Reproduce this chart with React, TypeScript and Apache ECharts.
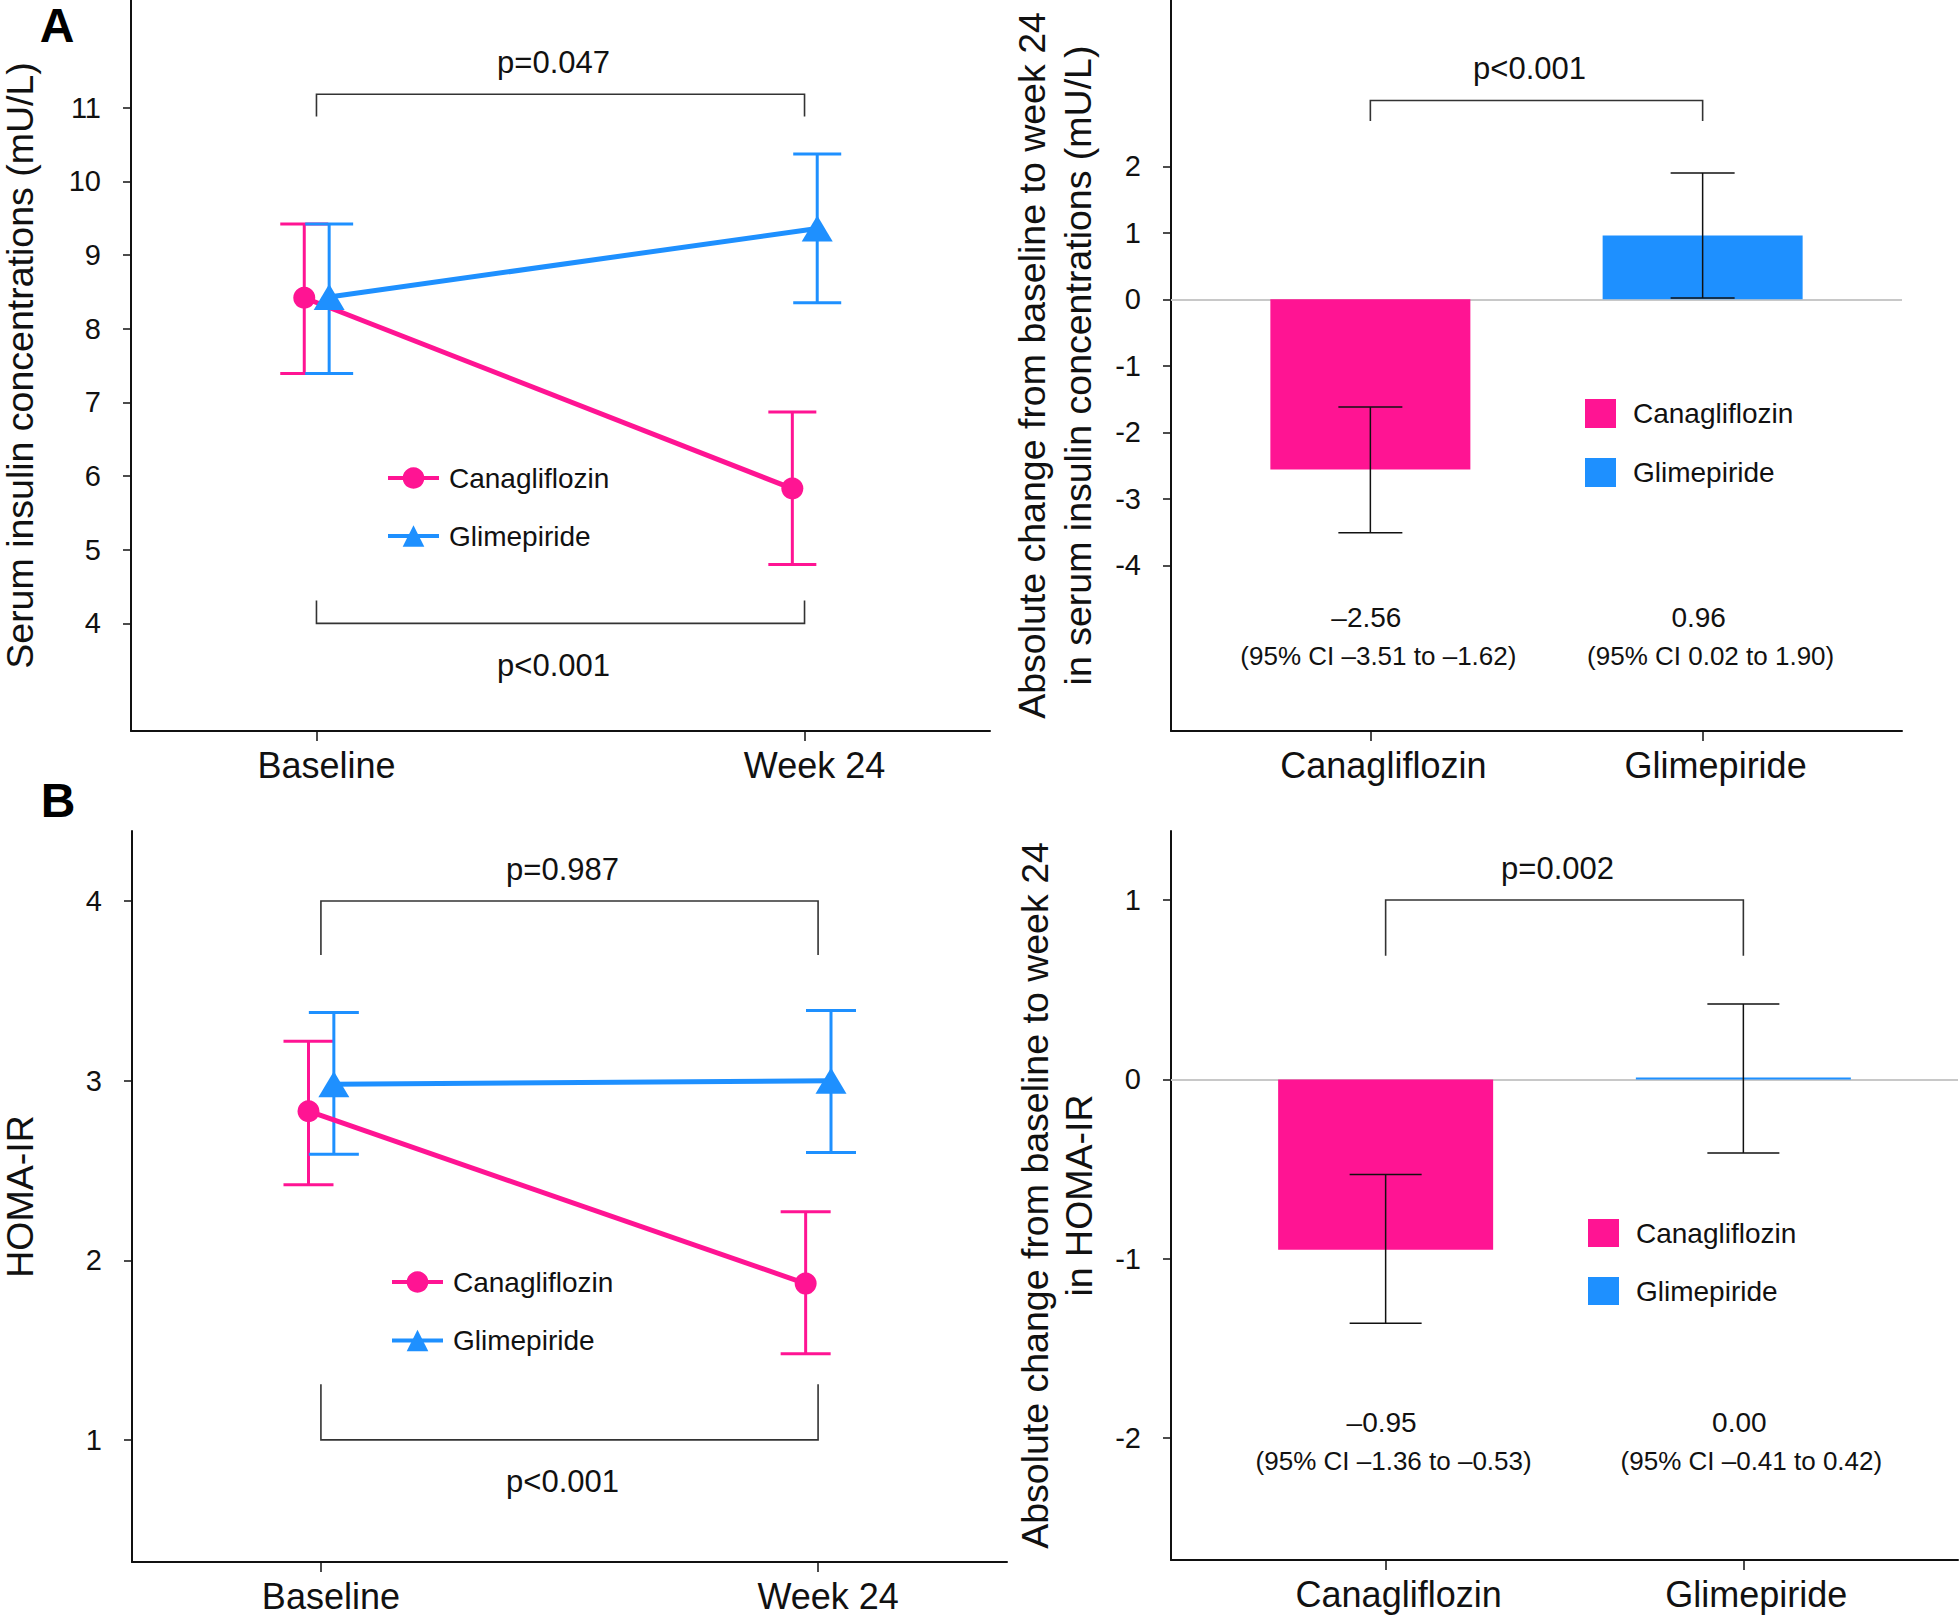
import React, { useEffect, useRef } from 'react';
import * as echarts from 'echarts';

// ---------------- data ----------------
const timepoints = ['Baseline', 'Week 24'];
const treatments = ['Canagliflozin', 'Glimepiride'];

// Panel A – serum insulin (mU/L): mean and 95% CI
const insulinCanaMean = [8.42, 5.83];
const insulinCanaLow = [7.39, 4.80];
const insulinCanaHigh = [9.42, 6.87];
const insulinGlimMean = [8.43, 9.36];
const insulinGlimLow = [7.39, 8.35];
const insulinGlimHigh = [9.42, 10.37];
const insulinTicks = [4, 5, 6, 7, 8, 9, 10, 11];
const insulinWithinP = ['p=0.047', 'p<0.001']; // [Glimepiride, Canagliflozin]
const insulinChangeMean = [-2.56, 0.96];
const insulinChangeLow = [-3.51, 0.02];
const insulinChangeHigh = [-1.62, 1.9];
const insulinChangeTicks = [-4, -3, -2, -1, 0, 1, 2];
const insulinBetweenP = 'p<0.001';

// Panel B – HOMA-IR: mean and 95% CI
const homaCanaMean = [2.83, 1.87];
const homaCanaLow = [2.42, 1.48];
const homaCanaHigh = [3.22, 2.27];
const homaGlimMean = [2.98, 3.0];
const homaGlimLow = [2.59, 2.6];
const homaGlimHigh = [3.38, 3.39];
const homaTicks = [1, 2, 3, 4];
const homaWithinP = ['p=0.987', 'p<0.001']; // [Glimepiride, Canagliflozin]
const homaChangeMean = [-0.95, 0.0];
const homaChangeLow = [-1.36, -0.41];
const homaChangeHigh = [-0.53, 0.42];
const homaChangeTicks = [-2, -1, 0, 1];
const homaBetweenP = 'p=0.002';

// ---------------- style / layout ----------------
const FONT = '"Liberation Sans", Arial, Helvetica, sans-serif';
const PINK = '#FF1493';
const BLUE = '#1E90FF';
const INK = '#111111';
const DODGE_CANA = -0.025;
const DODGE_GLIM = 0.026;

const fmt = (v: number) => (v < 0 ? '\u2013' : '') + Math.abs(v).toFixed(2);

function errorBarSeries(g: number, xs: number[], lows: number[], highs: number[], color: string, width: number, capHalf: number, z: number) {
  return {
    type: 'custom',
    name: 'err',
    xAxisIndex: g,
    yAxisIndex: g,
    z,
    silent: true,
    data: xs.map((x, i) => [x, lows[i], highs[i]]),
    encode: { x: 0, y: [1, 2] },
    renderItem: (params: any, api: any) => {
      const x = api.value(0);
      const lo = api.coord([x, api.value(1)]);
      const hi = api.coord([x, api.value(2)]);
      const st = () => ({ stroke: color, lineWidth: width, fill: 'none' });
      return {
        type: 'group',
        children: [
          { type: 'line', shape: { x1: lo[0], y1: lo[1], x2: hi[0], y2: hi[1] }, style: st() },
          { type: 'line', shape: { x1: lo[0] - capHalf, y1: lo[1], x2: lo[0] + capHalf, y2: lo[1] }, style: st() },
          { type: 'line', shape: { x1: hi[0] - capHalf, y1: hi[1], x2: hi[0] + capHalf, y2: hi[1] }, style: st() },
        ],
      };
    },
  };
}

type Bracket = { from: number; to: number; level: number; tip: number; label: string; side: 'above' | 'below' };

function bracketSeries(g: number, brackets: Bracket[]) {
  return {
    type: 'custom',
    name: 'bracket',
    xAxisIndex: g,
    yAxisIndex: g,
    z: 2,
    silent: true,
    data: brackets.map((b) => [b.from, b.to, b.level, b.tip]),
    encode: { x: [0, 1], y: [2, 3] },
    renderItem: (params: any, api: any) => {
      const b = brackets[params.dataIndex];
      const a0 = api.coord([api.value(0), api.value(3)]);
      const a1 = api.coord([api.value(0), api.value(2)]);
      const b1 = api.coord([api.value(1), api.value(2)]);
      const b0 = api.coord([api.value(1), api.value(3)]);
      const mx = (a1[0] + b1[0]) / 2 - 7;
      const ty = a1[1] + (b.side === 'above' ? -32 : 42);
      return {
        type: 'group',
        children: [
          { type: 'polyline', shape: { points: [a0, a1, b1, b0] }, style: { stroke: '#333', lineWidth: 1.6, fill: 'none' } },
          {
            type: 'text',
            x: mx,
            y: ty,
            style: { text: b.label, fontSize: 31, fontFamily: FONT, fill: INK, align: 'center', verticalAlign: 'middle' },
          },
        ],
      };
    },
  };
}

function ciTextSeries(g: number, means: number[], lows: number[], highs: number[], level: number) {
  return {
    type: 'custom',
    name: 'ci',
    xAxisIndex: g,
    yAxisIndex: g,
    z: 2,
    silent: true,
    data: means.map((m, i) => [i, m, lows[i], highs[i]]),
    encode: { x: 0, y: 1 },
    renderItem: (params: any, api: any) => {
      const c = api.coord([api.value(0), level]);
      const t1 = fmt(api.value(1));
      const t2 = `(95% CI ${fmt(api.value(2))} to ${fmt(api.value(3))})`;
      return {
        type: 'group',
        children: [
          { type: 'text', x: c[0] - 4, y: c[1], style: { text: t1, fontSize: 28, fontFamily: FONT, fill: INK, align: 'center', verticalAlign: 'middle' } },
          { type: 'text', x: c[0] + 8, y: c[1] + 38, style: { text: t2, fontSize: 26, fontFamily: FONT, fill: INK, align: 'center', verticalAlign: 'middle' } },
        ],
      };
    },
  };
}

const axisLineStyle = { color: INK, width: 2 };

function xAxisCfg(g: number, min: number, max: number, labels: string[], shift: number) {
  const idx = labels.map((_, i) => i);
  return {
    type: 'value',
    gridIndex: g,
    min,
    max,
    axisLine: { show: true, onZero: false, lineStyle: axisLineStyle },
    axisTick: { show: true, customValues: idx, length: 10, lineStyle: { color: INK, width: 1.5 } },
    axisLabel: {
      show: true,
      customValues: idx,
      formatter: (v: number) => labels[Math.round(v)] ?? '',
      fontSize: 36,
      fontFamily: FONT,
      color: INK,
      margin: 16,
      padding: [0, 0, 0, shift],
    },
    splitLine: { show: false },
  };
}

function yAxisCfg(g: number, min: number, max: number, ticks: number[], name: string, nameGap: number, lineHeight: number) {
  return {
    type: 'value',
    gridIndex: g,
    min,
    max,
    axisLine: { show: true, onZero: false, lineStyle: axisLineStyle },
    axisTick: { show: true, customValues: ticks, length: 8, lineStyle: { color: INK, width: 1.5 } },
    axisLabel: { show: true, customValues: ticks, fontSize: 29, fontFamily: FONT, color: INK, margin: 30 },
    splitLine: { show: false },
    name,
    nameLocation: 'middle',
    nameGap,
    nameRotate: 90,
    nameMoveOverlap: false,
    nameTextStyle: { fontSize: 37.5, fontFamily: FONT, color: INK, lineHeight },
  };
}

function lineSeries(g: number, name: string, means: number[], dodge: number, color: string, symbol: string, symbolSize: any) {
  return {
    type: 'line',
    name,
    xAxisIndex: g,
    yAxisIndex: g,
    z: 4,
    data: means.map((m, i) => [i + dodge, m]),
    symbol,
    symbolSize,
    showSymbol: true,
    lineStyle: { color, width: 5 },
    itemStyle: { color, borderWidth: 0 },
  };
}

function barSeries(g: number, name: string, idx: number, means: number[], color: string, barWidth: number, withZero: boolean) {
  const s: any = {
    type: 'bar',
    name,
    xAxisIndex: g,
    yAxisIndex: g,
    z: 2,
    data: [[idx, means[idx]]],
    barWidth,
    barGap: '-100%',
    barMinHeight: 2,
    itemStyle: { color },
  };
  if (withZero) {
    s.markLine = {
      silent: true,
      symbol: ['none', 'none'],
      label: { show: false },
      lineStyle: { color: '#c8c8c8', width: 2, type: 'solid' },
      data: [{ yAxis: 0 }],
      z: 1,
    };
  }
  return s;
}

function legendCfg(left: number, top: number, iw: number, ih: number, gap: number, pad: number, rect: boolean) {
  const cfg: any = {
    orient: 'vertical',
    left,
    top,
    padding: 0,
    itemWidth: iw,
    itemHeight: ih,
    itemGap: gap,
    selectedMode: false,
    data: treatments.map((n) => (rect ? { name: n, icon: 'rect' } : n)),
    formatter: (n: string) => `{t|${n}}`,
    textStyle: {
      fontSize: 28,
      fontFamily: FONT,
      color: INK,
      rich: { t: { fontSize: 28, fontFamily: FONT, color: INK, padding: [0, 0, 0, pad] } },
    },
  };
  if (!rect) cfg.lineStyle = { width: 4 };
  return cfg;
}

function buildOption() {
  const insulinBrackets: Bracket[] = [
    { from: 0, to: 1, level: 11.18, tip: 10.88, label: insulinWithinP[0], side: 'above' },
    { from: 0, to: 1, level: 4.0, tip: 4.31, label: insulinWithinP[1], side: 'below' },
  ];
  const insulinChangeBrackets: Bracket[] = [
    { from: 0, to: 1, level: 2.99, tip: 2.68, label: insulinBetweenP, side: 'above' },
  ];
  const homaBrackets: Bracket[] = [
    { from: 0, to: 1, level: 4.0, tip: 3.7, label: homaWithinP[0], side: 'above' },
    { from: 0, to: 1, level: 1.0, tip: 1.31, label: homaWithinP[1], side: 'below' },
  ];
  const homaChangeBrackets: Bracket[] = [
    { from: 0, to: 1, level: 1.0, tip: 0.69, label: homaBetweenP, side: 'above' },
  ];
  const tIdx = timepoints.map((_, i) => i);

  return {
    animation: false,
    backgroundColor: '#ffffff',
    textStyle: { fontFamily: FONT },
    grid: [
      { left: 131, top: 0, width: 859, height: 731, outerBoundsMode: 'none' },
      { left: 1171, top: 0, width: 731, height: 731, outerBoundsMode: 'none' },
      { left: 132, top: 831, width: 875, height: 731, outerBoundsMode: 'none' },
      { left: 1171, top: 831, width: 787, height: 729, outerBoundsMode: 'none' },
    ],
    xAxis: [
      xAxisCfg(0, -0.38, 1.38, timepoints, 20),
      xAxisCfg(1, -0.6, 1.6, treatments, 26),
      xAxisCfg(2, -0.38, 1.38, timepoints, 20),
      xAxisCfg(3, -0.6, 1.6, treatments, 26),
    ],
    yAxis: [
      yAxisCfg(0, 2.54, 12.46, insulinTicks, 'Serum insulin concentrations (mU/L)', 91, 40),
      yAxisCfg(1, -6.49, 4.5, insulinChangeTicks, 'Absolute change from baseline to week 24\nin serum insulin concentrations (mU/L)', 70, 46),
      yAxisCfg(2, 0.32, 4.39, homaTicks, 'HOMA-IR', 92, 40),
      yAxisCfg(3, -2.68, 1.385, homaChangeTicks, 'Absolute change from baseline to week 24\nin HOMA-IR', 70, 44),
    ],
    legend: [
      legendCfg(386, 464, 51, 27, 30, 5, false),
      legendCfg(1585, 399, 31, 29, 30, 12, true),
      legendCfg(390, 1268, 51, 27, 30.5, 5, false),
      legendCfg(1588, 1219, 31, 28, 30, 12, true),
    ],
    graphic: [
      { type: 'text', x: 57, y: 25, style: { text: 'A', fontSize: 48, fontWeight: 'bold', fontFamily: FONT, fill: '#000', align: 'center', verticalAlign: 'middle' } },
      { type: 'text', x: 58, y: 800, style: { text: 'B', fontSize: 48, fontWeight: 'bold', fontFamily: FONT, fill: '#000', align: 'center', verticalAlign: 'middle' } },
    ],
    series: [
      // Panel A left
      lineSeries(0, treatments[0], insulinCanaMean, DODGE_CANA, PINK, 'circle', 22),
      lineSeries(0, treatments[1], insulinGlimMean, DODGE_GLIM, BLUE, 'triangle', [31, 26]),
      errorBarSeries(0, tIdx.map((i) => i + DODGE_CANA), insulinCanaLow, insulinCanaHigh, PINK, 3, 24, 1),
      errorBarSeries(0, tIdx.map((i) => i + DODGE_GLIM), insulinGlimLow, insulinGlimHigh, BLUE, 3, 24, 1),
      bracketSeries(0, insulinBrackets),
      // Panel A right
      barSeries(1, treatments[0], 0, insulinChangeMean, PINK, 200, true),
      barSeries(1, treatments[1], 1, insulinChangeMean, BLUE, 200, false),
      errorBarSeries(1, [0, 1], insulinChangeLow, insulinChangeHigh, INK, 1.5, 32, 5),
      bracketSeries(1, insulinChangeBrackets),
      ciTextSeries(1, insulinChangeMean, insulinChangeLow, insulinChangeHigh, -4.79),
      // Panel B left
      lineSeries(2, treatments[0], homaCanaMean, DODGE_CANA, PINK, 'circle', 22),
      lineSeries(2, treatments[1], homaGlimMean, DODGE_GLIM, BLUE, 'triangle', [31, 26]),
      errorBarSeries(2, tIdx.map((i) => i + DODGE_CANA), homaCanaLow, homaCanaHigh, PINK, 3, 25, 1),
      errorBarSeries(2, tIdx.map((i) => i + DODGE_GLIM), homaGlimLow, homaGlimHigh, BLUE, 3, 25, 1),
      bracketSeries(2, homaBrackets),
      // Panel B right
      barSeries(3, treatments[0], 0, homaChangeMean, PINK, 215, true),
      barSeries(3, treatments[1], 1, homaChangeMean, BLUE, 215, false),
      errorBarSeries(3, [0, 1], homaChangeLow, homaChangeHigh, INK, 1.5, 36, 5),
      bracketSeries(3, homaChangeBrackets),
      ciTextSeries(3, homaChangeMean, homaChangeLow, homaChangeHigh, -1.915),
    ],
  };
}

export default function App() {
  const ref = useRef<HTMLDivElement>(null);
  useEffect(() => {
    if (!ref.current) return;
    const chart = echarts.init(ref.current, null, { renderer: 'svg' });
    chart.setOption(buildOption() as any);
    return () => chart.dispose();
  }, []);
  return (
    <div
      ref={ref}
      style={{ position: 'absolute', left: 0, top: 0, width: 1960, height: 1620, background: '#ffffff' }}
    />
  );
}
